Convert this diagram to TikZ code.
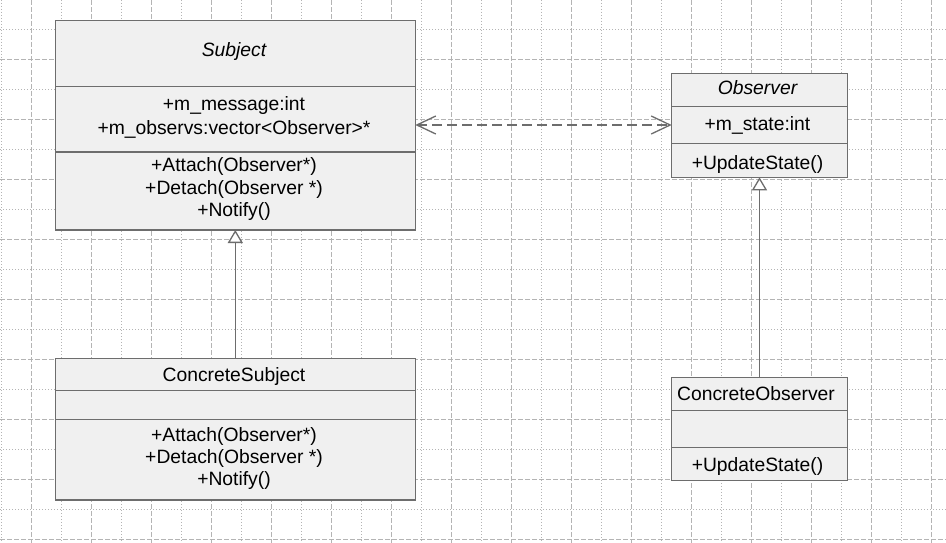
\documentclass[tikz,border=0pt]{standalone}
\usepackage{fontspec}
\setmainfont{Liberation Sans}
\usetikzlibrary{arrows.meta}
\definecolor{boxline}{HTML}{6D6D6D}
\definecolor{boxfill}{HTML}{F0F0F0}
\definecolor{gridc}{HTML}{B4B4B4}
\begin{document}
\begin{tikzpicture}[x=1pt,y=-1pt,
  gridmaj/.style={draw=gridc, line width=1pt, dash pattern=on 5pt off 2pt},
  gridmin/.style={draw=gridc, line width=1pt, dash pattern=on 1pt off 2pt},
  umlbox/.style={draw=boxline, fill=boxfill, line width=1.3pt, inner sep=0pt, outer sep=0pt},
  divider/.style={draw=boxline, line width=1.3pt},
  txt/.style={anchor=base, inner sep=0pt, font=\fontsize{19.3}{23}\selectfont},
  assoc/.style={draw=boxline, line width=1.3pt, dash pattern=on 10pt off 5pt,
    {Straight Barb[length=19pt,width=18pt,line width=1.3pt]}-{Straight Barb[length=19pt,width=18pt,line width=1.3pt]}},
  gen/.style={draw=boxline, line width=1.3pt, -{Triangle[length=13pt,width=15pt,fill=white,line width=1.3pt]}}
]
\fill[white] (0,0) rectangle (946,543);
\useasboundingbox (0,0) rectangle (946,543);
% grid
\foreach \m in {0,...,15} {
  \draw[gridmin] ({1.7+60*\m},0) -- ({1.7+60*\m},543);
  \draw[gridmaj] ({31.7+60*\m},0) -- ({31.7+60*\m},543);
}
\foreach \m in {0,...,8} {
  \draw[gridmin] (0,{29.3+60*\m}) -- (946,{29.3+60*\m});
  \draw[gridmaj] (0,{59.3+60*\m}) -- (946,{59.3+60*\m});
}

% Subject
\node[umlbox, minimum width=360pt, minimum height=209.7pt] (subj) at (235.3,125.15) {};
\draw[divider] (subj.west |- 0,86.3) -- (subj.east |- 0,86.3);
\draw[divider] (subj.west |- 0,152) -- (subj.east |- 0,152);
\node[txt] (subjname) at (234,56.7) {\itshape Subject};
\node[txt] (subja1) at (234,110.7) {+m\_message:int};
\node[txt] (subja2) at (234,134.3) {+m\_observs:vector<Observer>*};
\node[txt] (subjm1) at (234,171.7) {+Attach(Observer*)};
\node[txt] (subjm2) at (234,194.3) {+Detach(Observer *)};
\node[txt] (subjm3) at (234,216.3) {+Notify()};

% ConcreteSubject
\node[umlbox, minimum width=360pt, minimum height=141.3pt] (csubj) at (235.3,429.35) {};
\draw[divider] (csubj.west |- 0,390.3) -- (csubj.east |- 0,390.3);
\draw[divider] (csubj.west |- 0,419.3) -- (csubj.east |- 0,419.3);
\node[txt] (csubjname) at (234,381.7) {ConcreteSubject};
\node[txt] (csubjm1) at (234,441.7) {+Attach(Observer*)};
\node[txt] (csubjm2) at (234,463.3) {+Detach(Observer *)};
\node[txt] (csubjm3) at (234,485.7) {+Notify()};

% Observer
\node[umlbox, minimum width=175.6pt, minimum height=104pt] (obs) at (759.5,125.3) {};
\draw[divider] (obs.west |- 0,106.7) -- (obs.east |- 0,106.7);
\draw[divider] (obs.west |- 0,143.7) -- (obs.east |- 0,143.7);
\node[txt] (obsname) at (757.5,94.3) {\itshape Observer};
\node[txt] (obsa1) at (757.5,131) {+m\_state:int};
\node[txt] (obsm1) at (757.5,169.3) {+UpdateState()};

% ConcreteObserver
\node[umlbox, minimum width=175.6pt, minimum height=103.4pt] (cobs) at (759.5,429) {};
\draw[divider] (cobs.west |- 0,410.7) -- (cobs.east |- 0,410.7);
\draw[divider] (cobs.west |- 0,447.3) -- (cobs.east |- 0,447.3);
\node[txt] (cobsname) at (756,400) {ConcreteObserver};
\node[txt] (cobsm1) at (757.5,471) {+UpdateState()};

% connectors
\draw[assoc] (subj.east |- 0,125) -- (obs.west |- 0,125);
\draw[gen] (csubj.north) -- (subj.south);
\draw[gen] (cobs.north) -- (obs.south);
\end{tikzpicture}
\end{document}
